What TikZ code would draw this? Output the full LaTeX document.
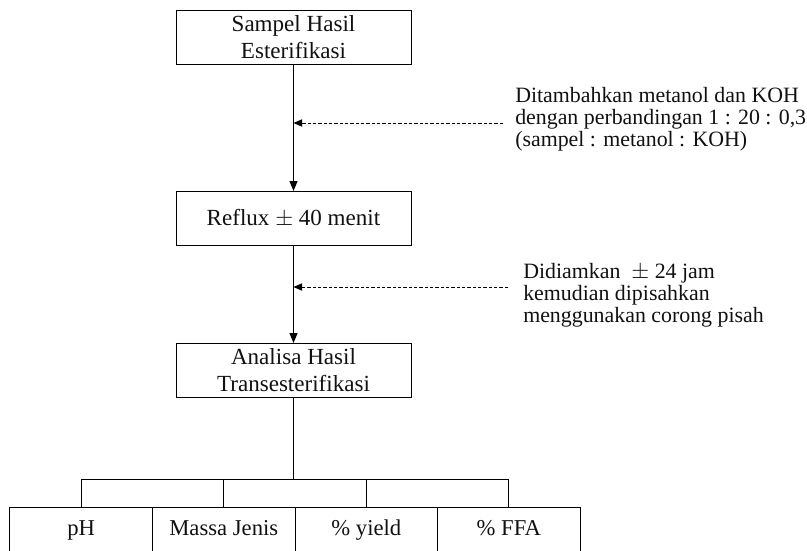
\documentclass[tikz,border=0pt]{standalone}
\usepackage{fontspec}
\setmainfont{Liberation Serif}
\usetikzlibrary{positioning, calc, arrows.meta}
\definecolor{Garis}{HTML}{000000}
\definecolor{Teks}{HTML}{111111}
\tikzset{
    kotak/.style={rectangle, draw=Garis, line width=0.75pt, outer sep=0pt, inner sep=0pt, minimum width=176.25pt, minimum height=40.5pt, align=center, text=Teks, font=\fontsize{17.3}{20.25}\selectfont},
    kotakbawah/.style={rectangle, draw=Garis, line width=0.75pt, outer sep=0pt, inner sep=0pt, minimum width=106.9pt, minimum height=34.5pt, text height=12pt, text depth=4pt, text=Teks, font=\fontsize{17}{20}\selectfont},
    catatan/.style={anchor=north west, align=left, inner sep=0pt, text=Teks, font=\fontsize{16.4}{16.5}\selectfont},
    panah/.style={-{Triangle[length=7.5pt, width=6pt]}, line width=0.75pt, color=Garis},
    panahputus/.style={-{Triangle[length=6.5pt, width=5.5pt]}, line width=0.6pt, dash pattern=on 2.5pt off 1.5pt, color=Garis},
    garis/.style={line width=0.75pt, color=Garis},
}
\begin{document}
\begin{tikzpicture}[x=0.75pt, y=-0.75pt]
    \useasboundingbox (0,0) rectangle (807,550);

    % Alur utama
    \node[kotak] (sampel) at (293.5,37) {Sampel Hasil\\Esterifikasi};
    \node[kotak, below=95.25pt of sampel] (reflux) {Reflux $\pm$ 40 menit};
    \node[kotak, below=73.5pt of reflux] (analisa) {Analisa Hasil\\Transesterifikasi};
    \draw[panah] (sampel) -- (reflux);
    \draw[panah] (reflux) -- (analisa);

    % Keterangan
    \node[catatan] (ket1) at (515,87) {Ditambahkan metanol dan KOH\\dengan perbandingan 1 : 20 : 0,3\\(sampel : metanol : KOH)};
    \coordinate (d1) at (503,123);
    \draw[panahputus] (d1) -- (d1 -| sampel.south);
    \node[catatan] (ket2) at (523,263) {Didiamkan \ $\pm$ 24 jam\\kemudian dipisahkan\\menggunakan corong pisah};
    \coordinate (d2) at (508,287);
    \draw[panahputus] (d2) -- (d2 -| reflux.south);

    % Parameter analisa
    \node[kotakbawah] (ph) at (81.25,530) {pH};
    \node[kotakbawah, right=0pt of ph] (massa) {Massa Jenis};
    \node[kotakbawah, right=0pt of massa] (yield) {\% yield};
    \node[kotakbawah, right=0pt of yield] (ffa) {\% FFA};

    % Percabangan
    \coordinate (cabang) at (293.5,479);
    \draw[garis] (analisa.south) -- (cabang);
    \draw[garis] (ph.north |- cabang) -- (ffa.north |- cabang);
    \foreach \n in {ph, massa, yield, ffa}
        \draw[garis] (\n.north) -- (\n.north |- cabang);
\end{tikzpicture}
\end{document}
